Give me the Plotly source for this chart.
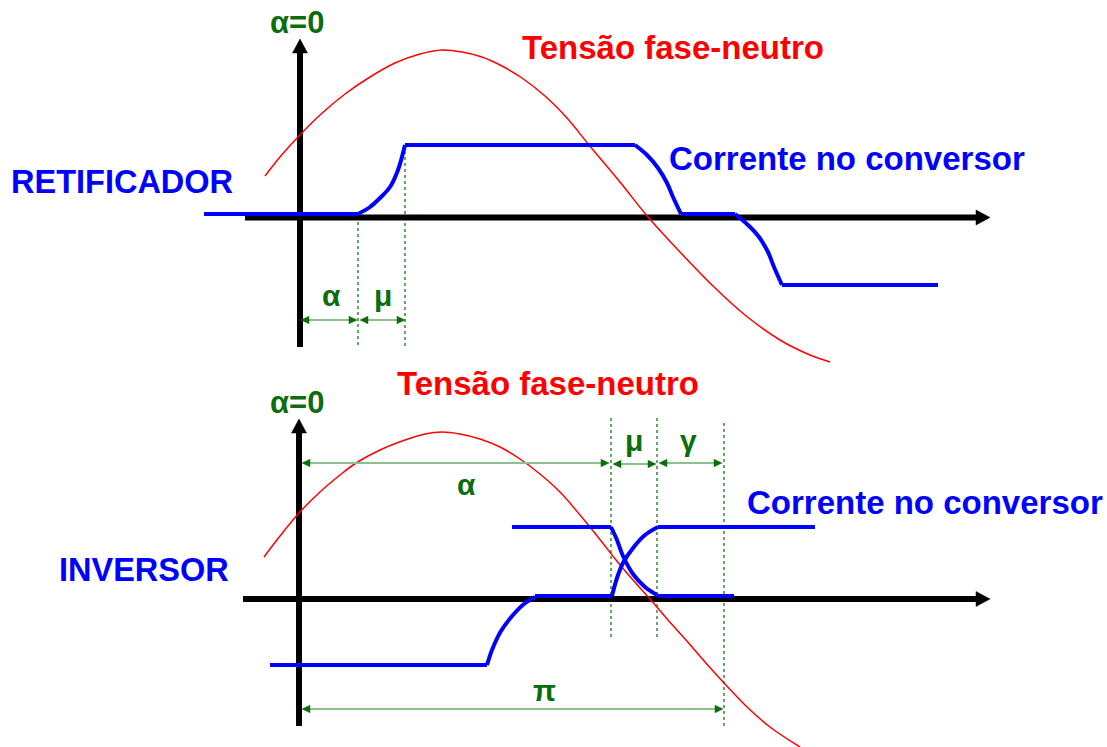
import plotly.graph_objects as go

# Drawing canvas in screen-like units: x grows to the right, y grows downward
W, H = 1107, 747

GREEN = "#0b6e0b"
GREEN_LIGHT = "#8cc08c"
GREEN_DOT = "#3f9140"
BLUE = "#0000ff"
RED = "#ff0000"
FONT = "Liberation Sans, Arial, Helvetica, sans-serif"

# ---------------- RETIFICADOR (upper panel) ----------------
# phase-to-neutral voltage
ret_volt_x = [265, 280, 299, 320, 345, 370, 395, 420, 442, 462, 482, 502, 522, 545,
              567, 589, 620, 648, 680, 712, 745, 780, 810, 830]
ret_volt_y = [176, 157, 136, 115, 94, 77, 63, 54, 50, 52, 57, 66, 78, 96,
              118, 145, 182, 217, 252, 285, 315, 340, 355, 362]

# converter current, piece by piece (flat parts and commutation curves)
ret_cur = [
    ([204, 358], [214, 214], "linear"),
    ([358, 370, 380, 390, 398, 405], [214, 207, 198, 187, 170, 145], "spline"),
    ([405, 635], [145, 145], "linear"),
    ([635, 647, 658, 667, 673, 681], [145, 155, 168, 183, 197, 214], "spline"),
    ([681, 735], [214, 214], "linear"),
    ([735, 748, 759, 768, 774, 782], [214, 225, 237, 252, 267, 285], "spline"),
    ([782, 938], [285, 285], "linear"),
]

# axes: (x0, y0, tip_x, tip_y)
ret_axes = [(300, 347, 300, 39), (245, 217.5, 990, 217.5)]

# dotted markers of the commutation instants: (x, y_top, y_bottom)
ret_marks = [(358, 222, 347), (405, 145, 347)]

# dimension arrows: (x_left, x_right, y, label, label_x, label_y)
ret_dims = [(301, 357, 320, "α", 331, 295), (360, 405, 320, "μ", 383, 295)]

# ---------------- INVERSOR (lower panel) ----------------
inv_volt_x = [264, 280, 299, 320, 340, 356, 380, 405, 425, 442, 460, 480, 500, 520,
              540, 560, 580, 598, 616, 633, 650, 668, 686, 705, 724, 745, 770, 800]
inv_volt_y = [557, 536, 513, 492, 475, 463, 450, 440, 434, 432, 434, 439, 447, 459,
              474, 492, 515, 537, 560, 580, 599, 620, 640, 662, 683, 705, 727, 747]

inv_cur_a = [
    ([270, 487], [665, 665], "linear"),
    ([487, 492, 501, 513, 524, 535], [665, 650, 631, 615, 604, 597], "spline"),
    ([535, 612], [596, 596], "linear"),
    ([612, 617, 623, 633, 645, 658], [596, 578, 563, 548, 535, 527], "spline"),
    ([658, 815], [527, 527], "linear"),
]
inv_cur_b = [
    ([512, 611], [527, 527], "linear"),
    ([611, 617, 623, 633, 645, 657], [527, 540, 556, 574, 587, 595], "spline"),
    ([657, 734], [596, 596], "linear"),
]

inv_axes = [(299, 726, 299, 419), (243, 599, 990, 599)]
inv_marks = [(611, 418, 637), (657, 418, 637), (724, 423, 728)]
inv_dims = [
    (302, 609, 463, "α", 466, 484),
    (613, 656, 464, "μ", 634, 440),
    (659, 722, 463, "γ", 688, 440),
    (302, 723, 709, "π", 544, 690),
]

# free labels: (text, x, y, colour, size)
labels = [
    ("α=0", 297, 22, GREEN, 31),
    ("Tensão fase-neutro", 673, 47, RED, 33),
    ("Corrente no conversor", 847, 158, BLUE, 33),
    ("RETIFICADOR", 122, 182, BLUE, 32.5),
    ("α=0", 297, 402, GREEN, 31),
    ("Tensão fase-neutro", 548, 383, RED, 33),
    ("Corrente no conversor", 925, 502, BLUE, 33),
    ("INVERSOR", 144, 570, BLUE, 32.5),
]

fig = go.Figure()


def add_line(xs, ys, color, width, shape="linear", dash=None):
    fig.add_trace(go.Scatter(
        x=xs, y=ys, mode="lines",
        line=dict(color=color, width=width, shape=shape, dash=dash),
        hoverinfo="skip", showlegend=False))


def add_head(tip_x, tip_y, dx, dy, length, half, color):
    # filled triangular arrow head pointing along (dx, dy)
    n = (dx * dx + dy * dy) ** 0.5
    ux, uy = dx / n, dy / n
    bx, by = tip_x - ux * length, tip_y - uy * length
    px, py = -uy * half, ux * half
    fig.add_trace(go.Scatter(
        x=[tip_x, bx + px, bx - px, tip_x], y=[tip_y, by + py, by - py, tip_y],
        mode="lines", fill="toself", fillcolor=color,
        line=dict(color=color, width=0.5),
        hoverinfo="skip", showlegend=False))


def draw_panel(volt_x, volt_y, currents, axes, marks, dims):
    for x, y0, y1 in marks:
        add_line([x, x], [y0, y1], GREEN_DOT, 1.6, dash="3px,3px")
    for x0, y0, tx, ty in axes:
        dx, dy = tx - x0, ty - y0
        n = (dx * dx + dy * dy) ** 0.5
        add_line([x0, tx - dx / n * 12], [y0, ty - dy / n * 12], "black", 6)
        add_head(tx, ty, dx, dy, 14, 7.5, "black")
    add_line(volt_x, volt_y, RED, 1.5, shape="spline")
    for path in currents:
        for xs, ys, shape in path:
            add_line(xs, ys, BLUE, 4, shape=shape)
    for xl, xr, y, text, lx, ly in dims:
        add_line([xl + 4, xr - 4], [y, y], GREEN_LIGHT, 2)
        add_head(xl, y, -1, 0, 8, 3.8, GREEN)
        add_head(xr, y, 1, 0, 8, 3.8, GREEN)
        fig.add_annotation(x=lx, y=ly, text=text, showarrow=False,
                           xanchor="center", yanchor="middle",
                           font=dict(family=FONT, size=30, color=GREEN, weight="bold"))


draw_panel(ret_volt_x, ret_volt_y, [ret_cur], ret_axes, ret_marks, ret_dims)
draw_panel(inv_volt_x, inv_volt_y, [inv_cur_a, inv_cur_b], inv_axes, inv_marks, inv_dims)

for text, x, y, color, size in labels:
    fig.add_annotation(x=x, y=y, text=text, showarrow=False,
                       xanchor="center", yanchor="middle",
                       font=dict(family=FONT, size=size, color=color, weight="bold"))

fig.update_layout(
    width=W, height=H,
    margin=dict(l=0, r=0, t=0, b=0),
    paper_bgcolor="white", plot_bgcolor="white",
    xaxis=dict(range=[0, W], visible=False, fixedrange=True),
    yaxis=dict(range=[H, 0], visible=False, fixedrange=True),
    showlegend=False,
)

fig.write_html("out.html", config={"displayModeBar": False})
